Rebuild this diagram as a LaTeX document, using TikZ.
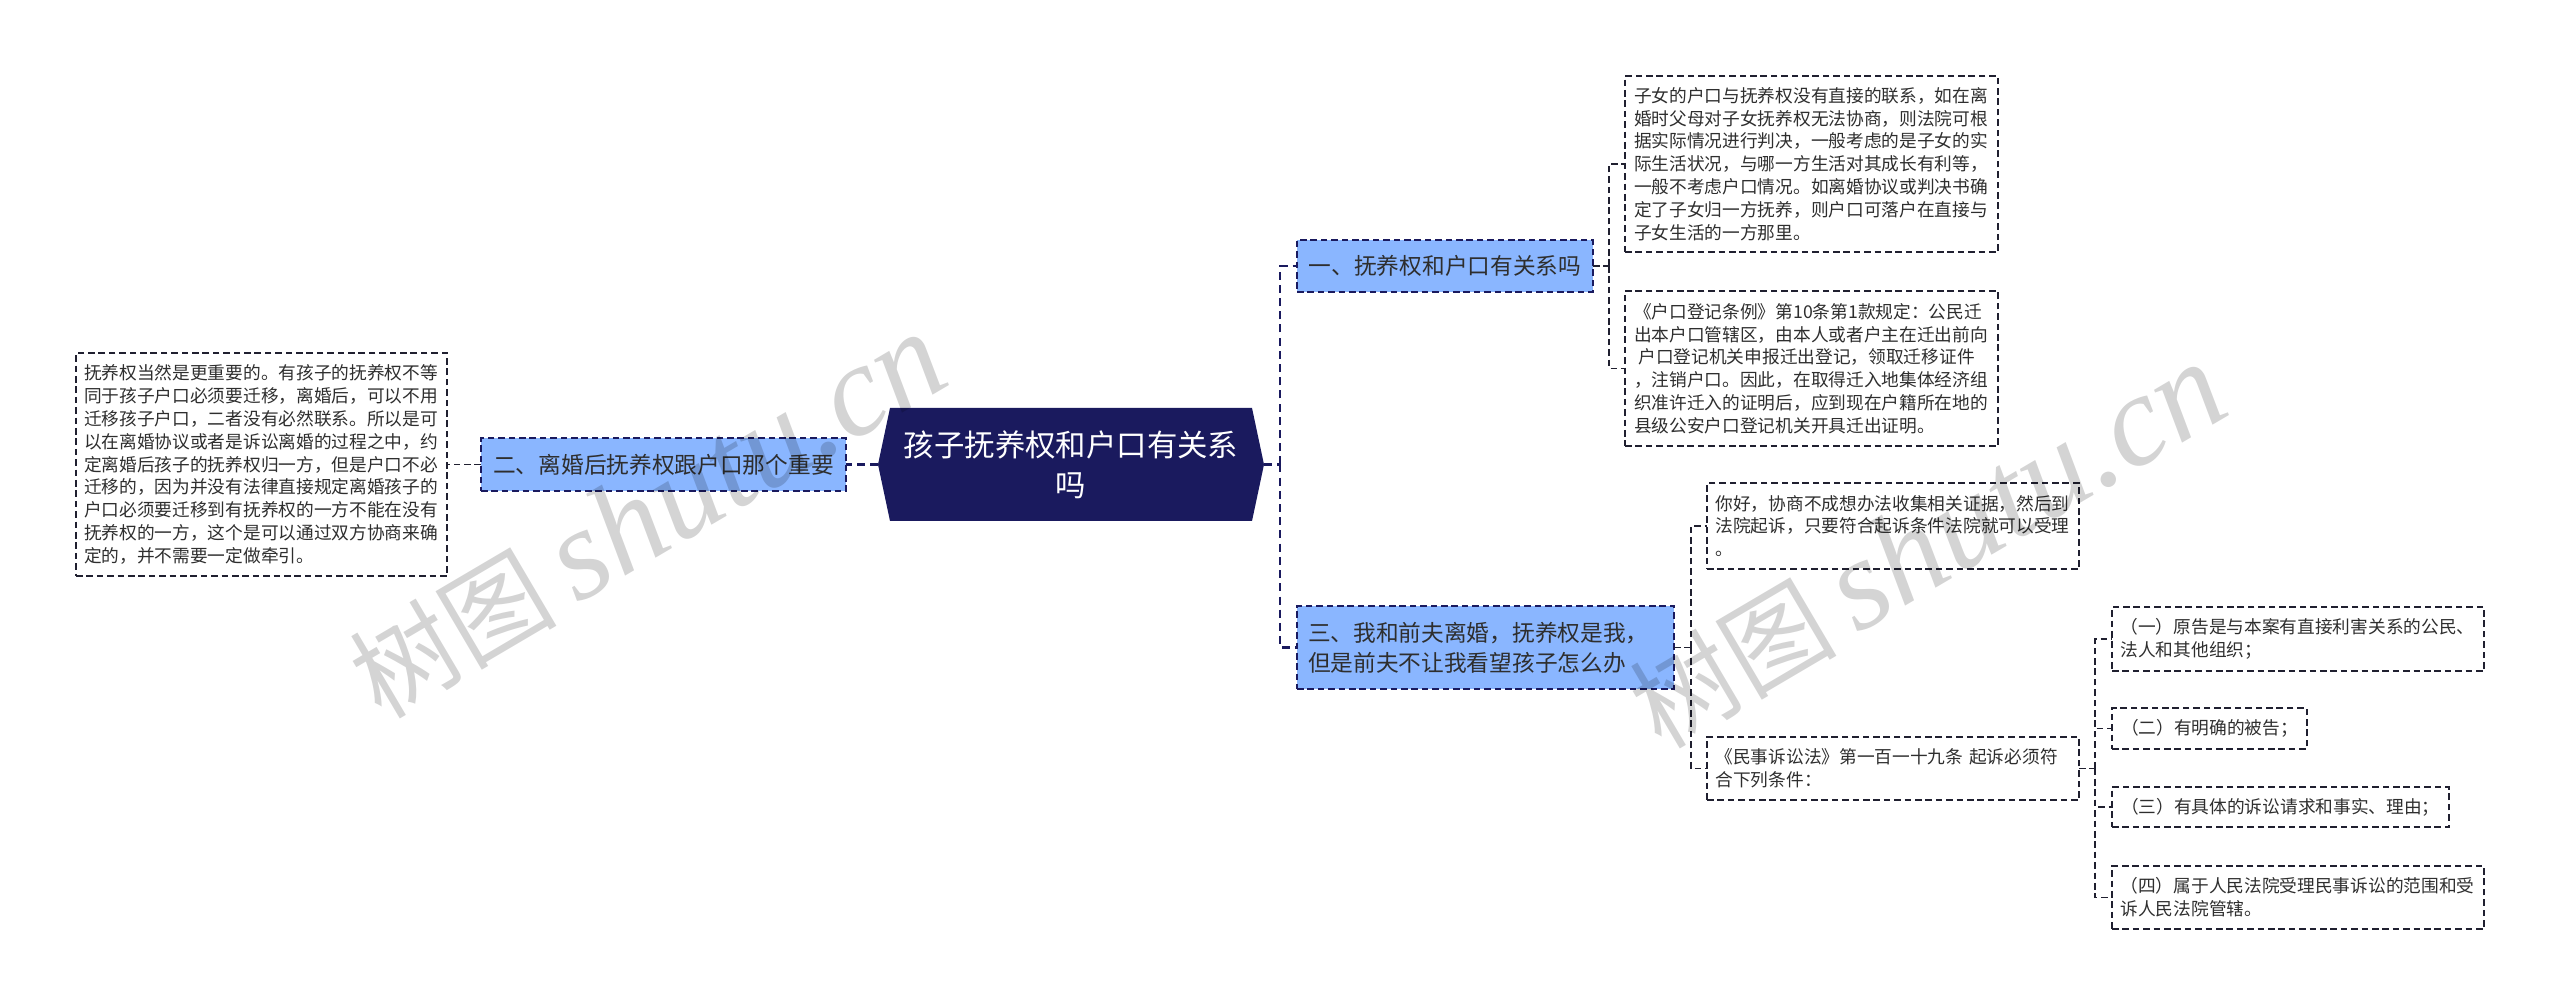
\documentclass[tikz,border=0pt]{standalone}
\usepackage{fontspec}
\setmainfont{Noto Sans CJK SC}
\newfontfamily\wmlatin{Liberation Serif}
\newfontfamily\wmcjk{Noto Sans CJK SC}
\usetikzlibrary{calc,backgrounds}
\definecolor{navy}{HTML}{1A1A5E}
\definecolor{skyfill}{HTML}{8AB6FF}
\definecolor{inktext}{HTML}{2E2E2E}
\definecolor{leafline}{HTML}{202030}
\definecolor{wmgray}{HTML}{D4D4D4}
\tikzset{
  dashline/.style={dash pattern=on 3.3pt off 1.9pt},
  leaf/.style={draw=leafline,line width=0.75pt,dashline,text=inktext,align=left,inner xsep=0pt,inner ysep=0pt,outer sep=0pt,
    font=\fontsize{8.85}{11.4}\selectfont},
  branch/.style={draw=navy,fill=skyfill,line width=1pt,dashline,text=inktext,inner xsep=0pt,inner ysep=0pt,outer sep=0pt,
    font=\fontsize{11.35}{15}\selectfont},
  rootnode/.style={text=white,align=center,inner sep=0pt,outer sep=0pt,font=\fontsize{15.2}{20}\selectfont},
  connbig/.style={draw=navy,line width=1.4pt,dash pattern=on 4pt off 2.6pt},
  connsmall/.style={draw=leafline,line width=0.75pt,dashline},
  watermark/.style={text=wmgray,rotate=30.5,inner sep=0pt,blend mode=multiply}
}
\begin{document}
\begin{tikzpicture}[x=0.5pt,y=-0.5pt]
\useasboundingbox (0,0) rectangle (2560,1005);
% root
\node[rootnode,minimum width=193pt,minimum height=56.5pt,text width=175pt] (root) at (1071,464.5) {孩子抚养权和户口有关系\\吗};
\begin{scope}[on background layer]
\fill[navy] (root.west) -- ($(root.north west)+(12,0)$) -- ($(root.north east)+(-12,0)$) -- (root.east) -- ($(root.south east)+(-12,0)$) -- ($(root.south west)+(12,0)$) -- cycle;
\end{scope}
% branches
\node[branch,minimum width=148pt,minimum height=26pt] (b1) at (1445,266) {一、抚养权和户口有关系吗};
\node[branch,minimum width=182.5pt,minimum height=26.5pt] (b2) at (663.5,464.5) {二、离婚后抚养权跟户口那个重要};
\node[branch,align=left,minimum width=188.5pt,minimum height=41.5pt,text width=177.5pt] (b3) at (1485.5,647.5) {三、我和前夫离婚，抚养权是我，\\但是前夫不让我看望孩子怎么办};
% leaves
\node[leaf,minimum width=186.5pt,minimum height=88pt,text width=177.5pt] (la) at (1811.5,164) {子女的户口与抚养权没有直接的联系，如在离\\婚时父母对子女抚养权无法协商，则法院可根\\据实际情况进行判决，一般考虑的是子女的实\\际生活状况，与哪一方生活对其成长有利等，\\一般不考虑户口情况。如离婚协议或判决书确\\定了子女归一方抚养，则户口可落户在直接与\\子女生活的一方那里。};
\node[leaf,minimum width=186.5pt,minimum height=77.5pt,text width=177.5pt] (lb) at (1811.5,368.5) {《户口登记条例》第10条第1款规定：公民迁\\出本户口管辖区，由本人或者户主在迁出前向\\\hspace*{2.2pt}户口登记机关申报迁出登记，领取迁移证件\\，注销户口。因此，在取得迁入地集体经济组\\织准许迁入的证明后，应到现在户籍所在地的\\县级公安户口登记机关开具迁出证明。};
\node[leaf,minimum width=185.5pt,minimum height=111.5pt,text width=177.5pt] (ll) at (261.5,464.5) {抚养权当然是更重要的。有孩子的抚养权不等\\同于孩子户口必须要迁移，离婚后，可以不用\\迁移孩子户口，二者没有必然联系。所以是可\\以在离婚协议或者是诉讼离婚的过程之中，约\\定离婚后孩子的抚养权归一方，但是户口不必\\迁移的，因为并没有法律直接规定离婚孩子的\\户口必须要迁移到有抚养权的一方不能在没有\\抚养权的一方，这个是可以通过双方协商来确\\定的，并不需要一定做牵引。};
\node[leaf,minimum width=186pt,minimum height=43pt,text width=177.5pt] (lc) at (1893,526) {你好，协商不成想办法收集相关证据，然后到\\法院起诉，只要符合起诉条件法院就可以受理\\。};
\node[leaf,minimum width=186pt,minimum height=31.5pt,text width=177.5pt] (ld) at (1893,768.5) {《民事诉讼法》第一百一十九条 起诉必须符\\合下列条件：};
\node[leaf,minimum width=186pt,minimum height=32pt,text width=177.5pt] (le) at (2298,639) {（一）原告是与本案有直接利害关系的公民、\\法人和其他组织；};
\node[leaf,minimum width=97.5pt,minimum height=20.5pt,text width=88.5pt] (lf) at (2209.5,728.5) {（二）有明确的被告；};
\node[leaf,minimum width=168.5pt,minimum height=20pt,text width=159.5pt] (lg) at (2280.5,807) {（三）有具体的诉讼请求和事实、理由；};
\node[leaf,minimum width=186pt,minimum height=31.5pt,text width=177.5pt] (lh) at (2298,897.5) {（四）属于人民法院受理民事诉讼的范围和受\\诉人民法院管辖。};
% junctions
\coordinate (t1) at (1280,464.5);
\coordinate (t2) at (1609,266);
\coordinate (t3) at (1691,647.5);
\coordinate (t4) at (2095,768.5);
% connectors
\draw[connbig] (root.east) -- (t1);
\draw[connbig] (t1) |- (b1.west);
\draw[connbig] (t1) |- (b3.west);
\draw[connbig] (root.west) -- (b2.east);
\draw[connsmall] (b2.west) -- (ll.east);
\draw[connsmall] (b1.east) -- (t2);
\draw[connsmall] (t2) |- (la.west);
\draw[connsmall] (t2) |- (lb.west);
\draw[connsmall] (b3.east) -- (t3);
\draw[connsmall] (t3) |- (lc.west);
\draw[connsmall] (t3) |- (ld.west);
\draw[connsmall] (ld.east) -- (t4);
\draw[connsmall] (t4) |- (le.west);
\draw[connsmall] (t4) |- (lf.west);
\draw[connsmall] (t4) |- (lg.west);
\draw[connsmall] (t4) |- (lh.west);
% watermarks
\node[watermark] (w1) at (647,516) {\fontsize{52}{62}\selectfont\wmcjk 树图\hspace{10pt}\fontsize{65}{62}\selectfont\wmlatin\itshape shutu.cn};
\node[watermark] (w2) at (1927,546) {\fontsize{52}{62}\selectfont\wmcjk 树图\hspace{10pt}\fontsize{65}{62}\selectfont\wmlatin\itshape shutu.cn};
\end{tikzpicture}
\end{document}
